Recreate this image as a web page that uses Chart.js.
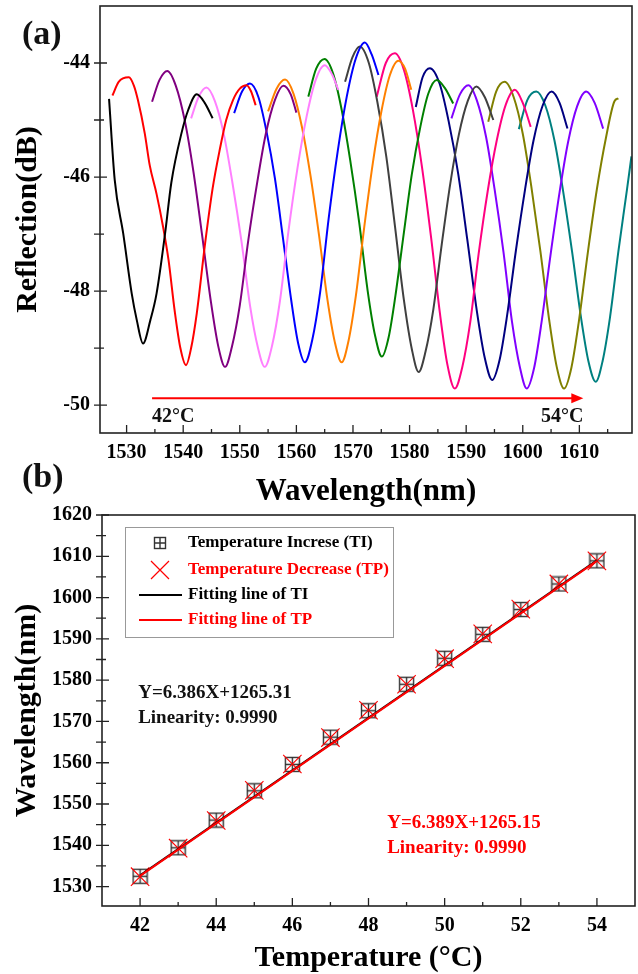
<!DOCTYPE html>
<html>
<head>
<meta charset="utf-8">
<script src="https://cdn.jsdelivr.net/npm/chart.js@4.4.1/dist/chart.umd.min.js"></script>
<style>
    body { margin: 0; background: #fff; }
    #wrap { position: relative; width: 638px; height: 974px; }
    canvas { position: absolute; left: 0; }
    #spectra { top: 0; }
    #linear { top: 500px; }
</style>
</head>
<body>
<div id="wrap">
    <canvas id="spectra" width="638" height="510"></canvas>
    <canvas id="linear" width="638" height="474"></canvas>
</div>
<script>
const serif = "'Liberation Serif', 'Times New Roman', serif";

// ---- (a) reflection spectra, one trace per temperature ----
const temps = ['42', '43', '44', '45', '46', '47', '48', '49', '50', '51', '52', '53', '54'];
const traceColors = ['#000000', '#ff0000', '#800080', '#ff80ff', '#0000ff', '#ff8000', '#008000',
                     '#404040', '#ff0080', '#000080', '#8000ff', '#808000', '#008080'];

const t42 = [[1526.9,-44.63],[1527.9,-46.05],[1529.4,-46.99],[1530.9,-48.04],[1531.8,-48.51],[1532.9,-48.92],[1534.2,-48.51],[1535.3,-48.04],[1536.8,-46.99],[1537.9,-46.1],[1539.7,-45.23],[1540.9,-44.82],[1542.4,-44.55],[1543.8,-44.7],[1545.2,-44.97]];
const t43 = [[1527.5,-44.57],[1528.6,-44.33],[1530.4,-44.25],[1531.3,-44.4],[1532.0,-44.65],[1533.2,-45.23],[1534.1,-45.8],[1535.3,-46.3],[1536.4,-46.85],[1537.4,-47.45],[1538.5,-48.35],[1539.5,-49.0],[1540.5,-49.3],[1541.4,-49.0],[1542.4,-48.39],[1543.8,-47.22],[1545.2,-46.2],[1546.5,-45.5],[1547.6,-45.0],[1548.8,-44.65],[1550.0,-44.45],[1551.2,-44.39],[1552.0,-44.5],[1552.8,-44.74]];
const t44 = [[1534.5,-44.68],[1535.8,-44.3],[1537.2,-44.14],[1538.7,-44.4],[1540.3,-45.02],[1541.8,-45.9],[1543.3,-46.99],[1544.9,-48.19],[1546.2,-48.97],[1547.4,-49.33],[1548.6,-48.98],[1550.0,-48.25],[1551.5,-47.11],[1553.1,-46.08],[1554.6,-45.24],[1556.2,-44.65],[1557.7,-44.4],[1559.0,-44.55],[1560.0,-44.87]];
const t45 = [[1541.4,-44.97],[1542.7,-44.6],[1544.1,-44.43],[1545.6,-44.67],[1547.2,-45.26],[1548.7,-46.1],[1550.3,-47.13],[1551.8,-48.25],[1553.2,-48.99],[1554.4,-49.33],[1555.7,-48.96],[1557.1,-48.17],[1558.6,-46.95],[1560.2,-45.84],[1561.8,-44.94],[1563.4,-44.3],[1565.0,-44.04],[1566.3,-44.2],[1567.4,-44.47]];
const t46 = [[1549.0,-44.88],[1550.4,-44.5],[1551.8,-44.36],[1553.3,-44.6],[1554.7,-45.19],[1556.2,-46.02],[1557.6,-47.05],[1559.1,-48.17],[1560.3,-48.91],[1561.5,-49.25],[1562.8,-48.86],[1564.2,-48.02],[1565.7,-46.73],[1567.3,-45.55],[1568.9,-44.59],[1570.5,-43.92],[1572.1,-43.64],[1573.3,-43.85],[1574.5,-44.21]];
const t47 = [[1555.0,-44.85],[1556.5,-44.45],[1558.0,-44.29],[1559.5,-44.54],[1561.0,-45.13],[1562.5,-45.98],[1564.0,-47.02],[1565.5,-48.16],[1566.8,-48.9],[1568.0,-49.25],[1569.2,-48.88],[1570.5,-48.09],[1572.0,-46.87],[1573.5,-45.76],[1575.0,-44.86],[1576.5,-44.22],[1578.0,-43.96],[1579.2,-44.1],[1580.3,-44.47]];
const t48 = [[1562.1,-44.59],[1563.5,-44.1],[1565.0,-43.93],[1566.5,-44.19],[1568.0,-44.82],[1569.5,-45.7],[1571.1,-46.8],[1572.6,-48.0],[1573.9,-48.78],[1575.1,-49.15],[1576.3,-48.81],[1577.5,-48.08],[1579.0,-46.97],[1580.4,-45.95],[1581.9,-45.12],[1583.3,-44.54],[1584.8,-44.3],[1586.3,-44.45],[1587.7,-44.71]];
const t49 = [[1568.6,-44.33],[1569.9,-43.9],[1571.2,-43.71],[1572.8,-44.0],[1574.3,-44.68],[1575.9,-45.65],[1577.4,-46.85],[1579.0,-48.16],[1580.4,-49.02],[1581.6,-49.42],[1582.8,-49.07],[1584.2,-48.32],[1585.7,-47.17],[1587.2,-46.11],[1588.7,-45.26],[1590.3,-44.66],[1591.8,-44.41],[1593.3,-44.6],[1594.8,-45.0]];
const t50 = [[1574.2,-44.59],[1575.8,-44.0],[1577.4,-43.83],[1579.0,-44.12],[1580.6,-44.83],[1582.2,-45.83],[1583.8,-47.06],[1585.4,-48.42],[1586.7,-49.3],[1588.0,-49.71],[1589.3,-49.34],[1590.7,-48.56],[1592.2,-47.35],[1593.8,-46.25],[1595.4,-45.36],[1597.0,-44.73],[1598.6,-44.47],[1600.0,-44.7],[1601.4,-45.12]];
const t51 = [[1581.1,-44.77],[1582.3,-44.25],[1583.6,-44.09],[1585.3,-44.36],[1586.9,-45.02],[1588.6,-45.95],[1590.2,-47.1],[1591.9,-48.36],[1593.3,-49.18],[1594.6,-49.56],[1595.9,-49.21],[1597.2,-48.45],[1598.8,-47.28],[1600.4,-46.22],[1601.9,-45.36],[1603.5,-44.75],[1605.1,-44.5],[1606.5,-44.7],[1607.9,-45.15]];
const t52 = [[1587.4,-44.97],[1588.9,-44.55],[1590.4,-44.39],[1591.9,-44.66],[1593.5,-45.29],[1595.0,-46.2],[1596.6,-47.32],[1598.1,-48.54],[1599.5,-49.34],[1600.7,-49.71],[1602.0,-49.35],[1603.3,-48.56],[1604.9,-47.37],[1606.5,-46.27],[1608.0,-45.39],[1609.6,-44.76],[1611.2,-44.5],[1612.7,-44.7],[1614.2,-45.15]];
const t53 = [[1593.9,-45.03],[1595.3,-44.5],[1596.8,-44.33],[1598.4,-44.6],[1600.0,-45.24],[1601.5,-46.16],[1603.1,-47.29],[1604.7,-48.53],[1606.0,-49.33],[1607.3,-49.71],[1608.6,-49.34],[1609.9,-48.54],[1611.5,-47.32],[1613.1,-46.21],[1614.7,-45.31],[1616.2,-44.67],[1616.9,-44.62]];
const t54 = [[1599.3,-45.16],[1600.8,-44.65],[1602.4,-44.5],[1604.0,-44.75],[1605.6,-45.36],[1607.1,-46.23],[1608.7,-47.3],[1610.3,-48.47],[1611.6,-49.23],[1612.9,-49.59],[1614.1,-49.23],[1615.4,-48.47],[1616.9,-47.3],[1618.4,-46.23],[1619.2,-45.64]];
const spectra = [t42, t43, t44, t45, t46, t47, t48, t49, t50, t51, t52, t53, t54];

const wlTicks = [1530, 1540, 1550, 1560, 1570, 1580, 1590, 1600, 1610];
const dbTicks = [-50, -48, -46, -44];

// ---- (b) dip wavelength vs temperature ----
const tempC = [42, 43, 44, 45, 46, 47, 48, 49, 50, 51, 52, 53, 54];
const dipTI = [1532.5, 1539.4, 1546.1, 1553.2, 1559.6, 1566.2, 1572.6, 1579.0, 1585.3, 1591.1, 1597.1, 1603.3, 1608.9];
const dipTP = [1532.4, 1539.3, 1546.0, 1553.3, 1559.7, 1566.1, 1572.7, 1579.0, 1585.2, 1591.2, 1597.2, 1603.3, 1608.9];
const fitX = [42, 54];
const fitTI = [1532.7, 1609.0];
const fitTP = [1532.6, 1608.9];
const tempTicks = [42, 44, 46, 48, 50, 52, 54];
const wlTicksB = [1530, 1540, 1550, 1560, 1570, 1580, 1590, 1600, 1610, 1620];

const legendNames = ['Temperature Increse (TI)', 'Temperature Decrease (TP)', 'Fitting line of TI', 'Fitting line of TP'];
const eqTI = ['Y=6.386X+1265.31', 'Linearity: 0.9990'];
const eqTP = ['Y=6.389X+1265.15', 'Linearity: 0.9990'];


function minorsOf(majors, min, max) {
    const step = majors[1] - majors[0];
    const out = [];
    for (let v = majors[0] - step / 2; v <= majors[majors.length - 1] + step / 2 + 1e-9; v += step) {
        if (v > min + 1e-6 && v < max - 1e-6) out.push(v);
    }
    return out;
}

// box, inward ticks on x, crossing ticks on y
const frame = {
    id: 'frame',
    afterDatasetsDraw(chart) {
        const { ctx, chartArea: a, scales: { x, y } } = chart;
        ctx.save();
        ctx.strokeStyle = '#222';
        ctx.lineWidth = 1.6;
        ctx.strokeRect(a.left, a.top, a.width, a.height);
        ctx.lineWidth = 1.3;
        ctx.beginPath();
        const xm = x.ticks.map(t => t.value);
        xm.forEach(v => { const p = x.getPixelForValue(v); ctx.moveTo(p, a.bottom); ctx.lineTo(p, a.bottom - 8); });
        minorsOf(xm, x.min, x.max).forEach(v => { const p = x.getPixelForValue(v); ctx.moveTo(p, a.bottom); ctx.lineTo(p, a.bottom - 4); });
        const ym = y.ticks.map(t => t.value);
        ym.forEach(v => { const p = y.getPixelForValue(v); ctx.moveTo(a.left - 6, p); ctx.lineTo(a.left + 7, p); });
        minorsOf(ym, y.min, y.max).forEach(v => { const p = y.getPixelForValue(v); ctx.moveTo(a.left - 6, p); ctx.lineTo(a.left + 4, p); });
        ctx.stroke();
        ctx.restore();
    }
};

const spectraNotes = {
    id: 'spectraNotes',
    afterDraw(chart) {
        const { ctx, scales: { x, y } } = chart;
        const x0 = x.getPixelForValue(1534.5);
        const x1 = x.getPixelForValue(1610.7);
        const yy = y.getPixelForValue(-49.88);
        ctx.save();
        ctx.strokeStyle = '#ff0000';
        ctx.fillStyle = '#ff0000';
        ctx.lineWidth = 2;
        ctx.beginPath();
        ctx.moveTo(x0, yy);
        ctx.lineTo(x1 - 10, yy);
        ctx.stroke();
        ctx.beginPath();
        ctx.moveTo(x1, yy);
        ctx.lineTo(x1 - 12, yy - 5);
        ctx.lineTo(x1 - 12, yy + 5);
        ctx.closePath();
        ctx.fill();

        ctx.fillStyle = '#111';
        ctx.font = `bold 20px ${serif}`;
        ctx.textBaseline = 'middle';
        ctx.textAlign = 'left';
        ctx.fillText(temps[0] + '°C', x0, yy + 19);
        ctx.textAlign = 'right';
        ctx.fillText(temps[temps.length - 1] + '°C', x1, yy + 19);

        ctx.font = `bold 34px ${serif}`;
        ctx.textAlign = 'left';
        ctx.fillText('(a)', 22, 35);
        ctx.fillText('(b)', 22, 478);
        ctx.restore();
    }
};

function boxPlus(size, color) {
    const c = document.createElement('canvas');
    c.width = size;
    c.height = size;
    const g = c.getContext('2d');
    g.strokeStyle = color;
    g.lineWidth = 1.4;
    g.strokeRect(1.5, 1.5, size - 3, size - 3);
    g.beginPath();
    g.moveTo(size / 2, 1.5); g.lineTo(size / 2, size - 1.5);
    g.moveTo(1.5, size / 2); g.lineTo(size - 1.5, size / 2);
    g.stroke();
    return c;
}

const linearNotes = {
    id: 'linearNotes',
    afterDraw(chart) {
        const { ctx, chartArea: a, scales: { x, y } } = chart;
        ctx.save();
        // legend box
        const bx = a.left + 23, by = a.top + 12, bw = 268, bh = 110;
        ctx.fillStyle = '#fff';
        ctx.fillRect(bx, by, bw, bh);
        ctx.strokeStyle = '#999';
        ctx.lineWidth = 1;
        ctx.strokeRect(bx + 0.5, by + 0.5, bw, bh);

        const rows = [16, 43, 68, 93];
        const colorsL = ['#000', '#ff0000', '#000', '#ff0000'];
        const mx = bx + 35;
        ctx.drawImage(boxPlus(14, '#333'), mx - 7, by + rows[0] - 7);
        ctx.strokeStyle = '#ff0000';
        ctx.lineWidth = 1.2;
        ctx.beginPath();
        ctx.moveTo(mx - 9, by + rows[1] - 9); ctx.lineTo(mx + 9, by + rows[1] + 9);
        ctx.moveTo(mx + 9, by + rows[1] - 9); ctx.lineTo(mx - 9, by + rows[1] + 9);
        ctx.stroke();
        ctx.lineWidth = 2;
        ctx.strokeStyle = '#000';
        ctx.beginPath(); ctx.moveTo(bx + 14, by + rows[2]); ctx.lineTo(bx + 57, by + rows[2]); ctx.stroke();
        ctx.strokeStyle = '#ff0000';
        ctx.beginPath(); ctx.moveTo(bx + 14, by + rows[3]); ctx.lineTo(bx + 57, by + rows[3]); ctx.stroke();

        ctx.font = `bold 17px ${serif}`;
        ctx.textBaseline = 'middle';
        ctx.textAlign = 'left';
        legendNames.forEach((name, i) => {
            ctx.fillStyle = colorsL[i];
            ctx.fillText(name, bx + 63, by + rows[i]);
        });

        // fit equations
        ctx.font = `bold 19px ${serif}`;
        ctx.fillStyle = '#111';
        ctx.fillText(eqTI[0], x.getPixelForValue(41.95), y.getPixelForValue(1576.9));
        ctx.fillText(eqTI[1], x.getPixelForValue(41.95), y.getPixelForValue(1570.8));
        ctx.fillStyle = '#ff0000';
        ctx.fillText(eqTP[0], x.getPixelForValue(48.49), y.getPixelForValue(1545.4));
        ctx.fillText(eqTP[1], x.getPixelForValue(48.49), y.getPixelForValue(1539.4));
        ctx.restore();
    }
};

function axisFont(size) {
    return { family: serif, size: size, weight: 'bold', lineHeight: 1 };
}

// fixed axis boxes so the plot areas land where the reference has them
function fixX(h) {
    return s => { s.height = h; s.paddingLeft = 0; s.paddingRight = 0; };
}
function fixY(w) {
    return s => { s.width = w; s.paddingTop = 0; s.paddingBottom = 0; };
}
const plain = v => String(v);

Chart.defaults.font.family = serif;
Chart.defaults.color = '#000';

new Chart(document.getElementById('spectra'), {
    type: 'line',
    data: {
        datasets: spectra.map((pts, i) => ({
            label: temps[i] + '°C',
            data: pts.map(p => ({ x: p[0], y: p[1] })),
            borderColor: traceColors[i],
            borderWidth: 2,
            pointRadius: 0,
            cubicInterpolationMode: 'monotone',
            fill: false
        }))
    },
    options: {
        responsive: false,
        animation: false,
        devicePixelRatio: 1,
        layout: { autoPadding: false, padding: { top: 6, right: 6, left: 0, bottom: 0 } },
        plugins: { legend: { display: false }, tooltip: { enabled: false } },
        scales: {
            x: {
                type: 'linear',
                min: 1525.3,
                max: 1619.3,
                afterBuildTicks: s => { s.ticks = wlTicks.map(v => ({ value: v })); },
                afterFit: fixX(77),
                grid: { display: false, drawTicks: false },
                border: { display: false },
                ticks: { padding: 10, color: '#000', maxRotation: 0, autoSkip: false, font: axisFont(20), callback: plain },
                title: { display: true, text: 'Wavelength(nm)', color: '#000', font: axisFont(31), padding: { top: 0, bottom: 3 } }
            },
            y: {
                min: -50.49,
                max: -43.0,
                afterBuildTicks: s => { s.ticks = dbTicks.map(v => ({ value: v })); },
                afterFit: fixY(100),
                grid: { display: false, drawTicks: false },
                border: { display: false },
                ticks: { padding: 10, color: '#000', font: axisFont(20), callback: plain },
                title: { display: true, text: 'Reflection(dB)', color: '#000', font: axisFont(30), padding: { top: 13, bottom: 0 } }
            }
        }
    },
    plugins: [frame, spectraNotes]
});

new Chart(document.getElementById('linear'), {
    type: 'scatter',
    data: {
        datasets: [
            {
                label: legendNames[3],
                data: fitX.map((t, i) => ({ x: t, y: fitTP[i] })),
                showLine: true,
                borderColor: '#ff0000',
                borderWidth: 2,
                pointRadius: 0,
                order: 0
            },
            {
                label: legendNames[2],
                data: fitX.map((t, i) => ({ x: t, y: fitTI[i] })),
                showLine: true,
                borderColor: '#000',
                borderWidth: 2,
                pointRadius: 0,
                order: 1
            },
            {
                label: legendNames[1],
                data: tempC.map((t, i) => ({ x: t, y: dipTP[i] })),
                pointStyle: 'crossRot',
                pointRadius: 13,
                borderColor: '#ff0000',
                backgroundColor: '#ff0000',
                borderWidth: 1.1,
                order: 2
            },
            {
                label: legendNames[0],
                data: tempC.map((t, i) => ({ x: t, y: dipTI[i] })),
                pointStyle: boxPlus(17, '#333'),
                order: 3
            }
        ]
    },
    options: {
        responsive: false,
        animation: false,
        devicePixelRatio: 1,
        layout: { autoPadding: false, padding: { top: 15, right: 3, left: 0, bottom: 0 } },
        plugins: { legend: { display: false }, tooltip: { enabled: false } },
        scales: {
            x: {
                type: 'linear',
                min: 41,
                max: 55,
                afterBuildTicks: s => { s.ticks = tempTicks.map(v => ({ value: v })); },
                afterFit: fixX(68),
                grid: { display: false, drawTicks: false },
                border: { display: false },
                ticks: { padding: 10, color: '#000', maxRotation: 0, autoSkip: false, font: axisFont(20), callback: plain },
                title: { display: true, text: 'Temperature (°C)', color: '#000', font: axisFont(30), padding: { top: 0, bottom: 1 } }
            },
            y: {
                min: 1525.3,
                max: 1620,
                afterBuildTicks: s => { s.ticks = wlTicksB.map(v => ({ value: v })); },
                afterFit: fixY(102),
                grid: { display: false, drawTicks: false },
                border: { display: false },
                ticks: { padding: 10, color: '#000', font: axisFont(20), callback: plain },
                title: { display: true, text: 'Wavelength(nm)', color: '#000', font: axisFont(30), padding: { top: 12, bottom: 0 } }
            }
        }
    },
    plugins: [frame, linearNotes]
});
</script>
</body>
</html>
